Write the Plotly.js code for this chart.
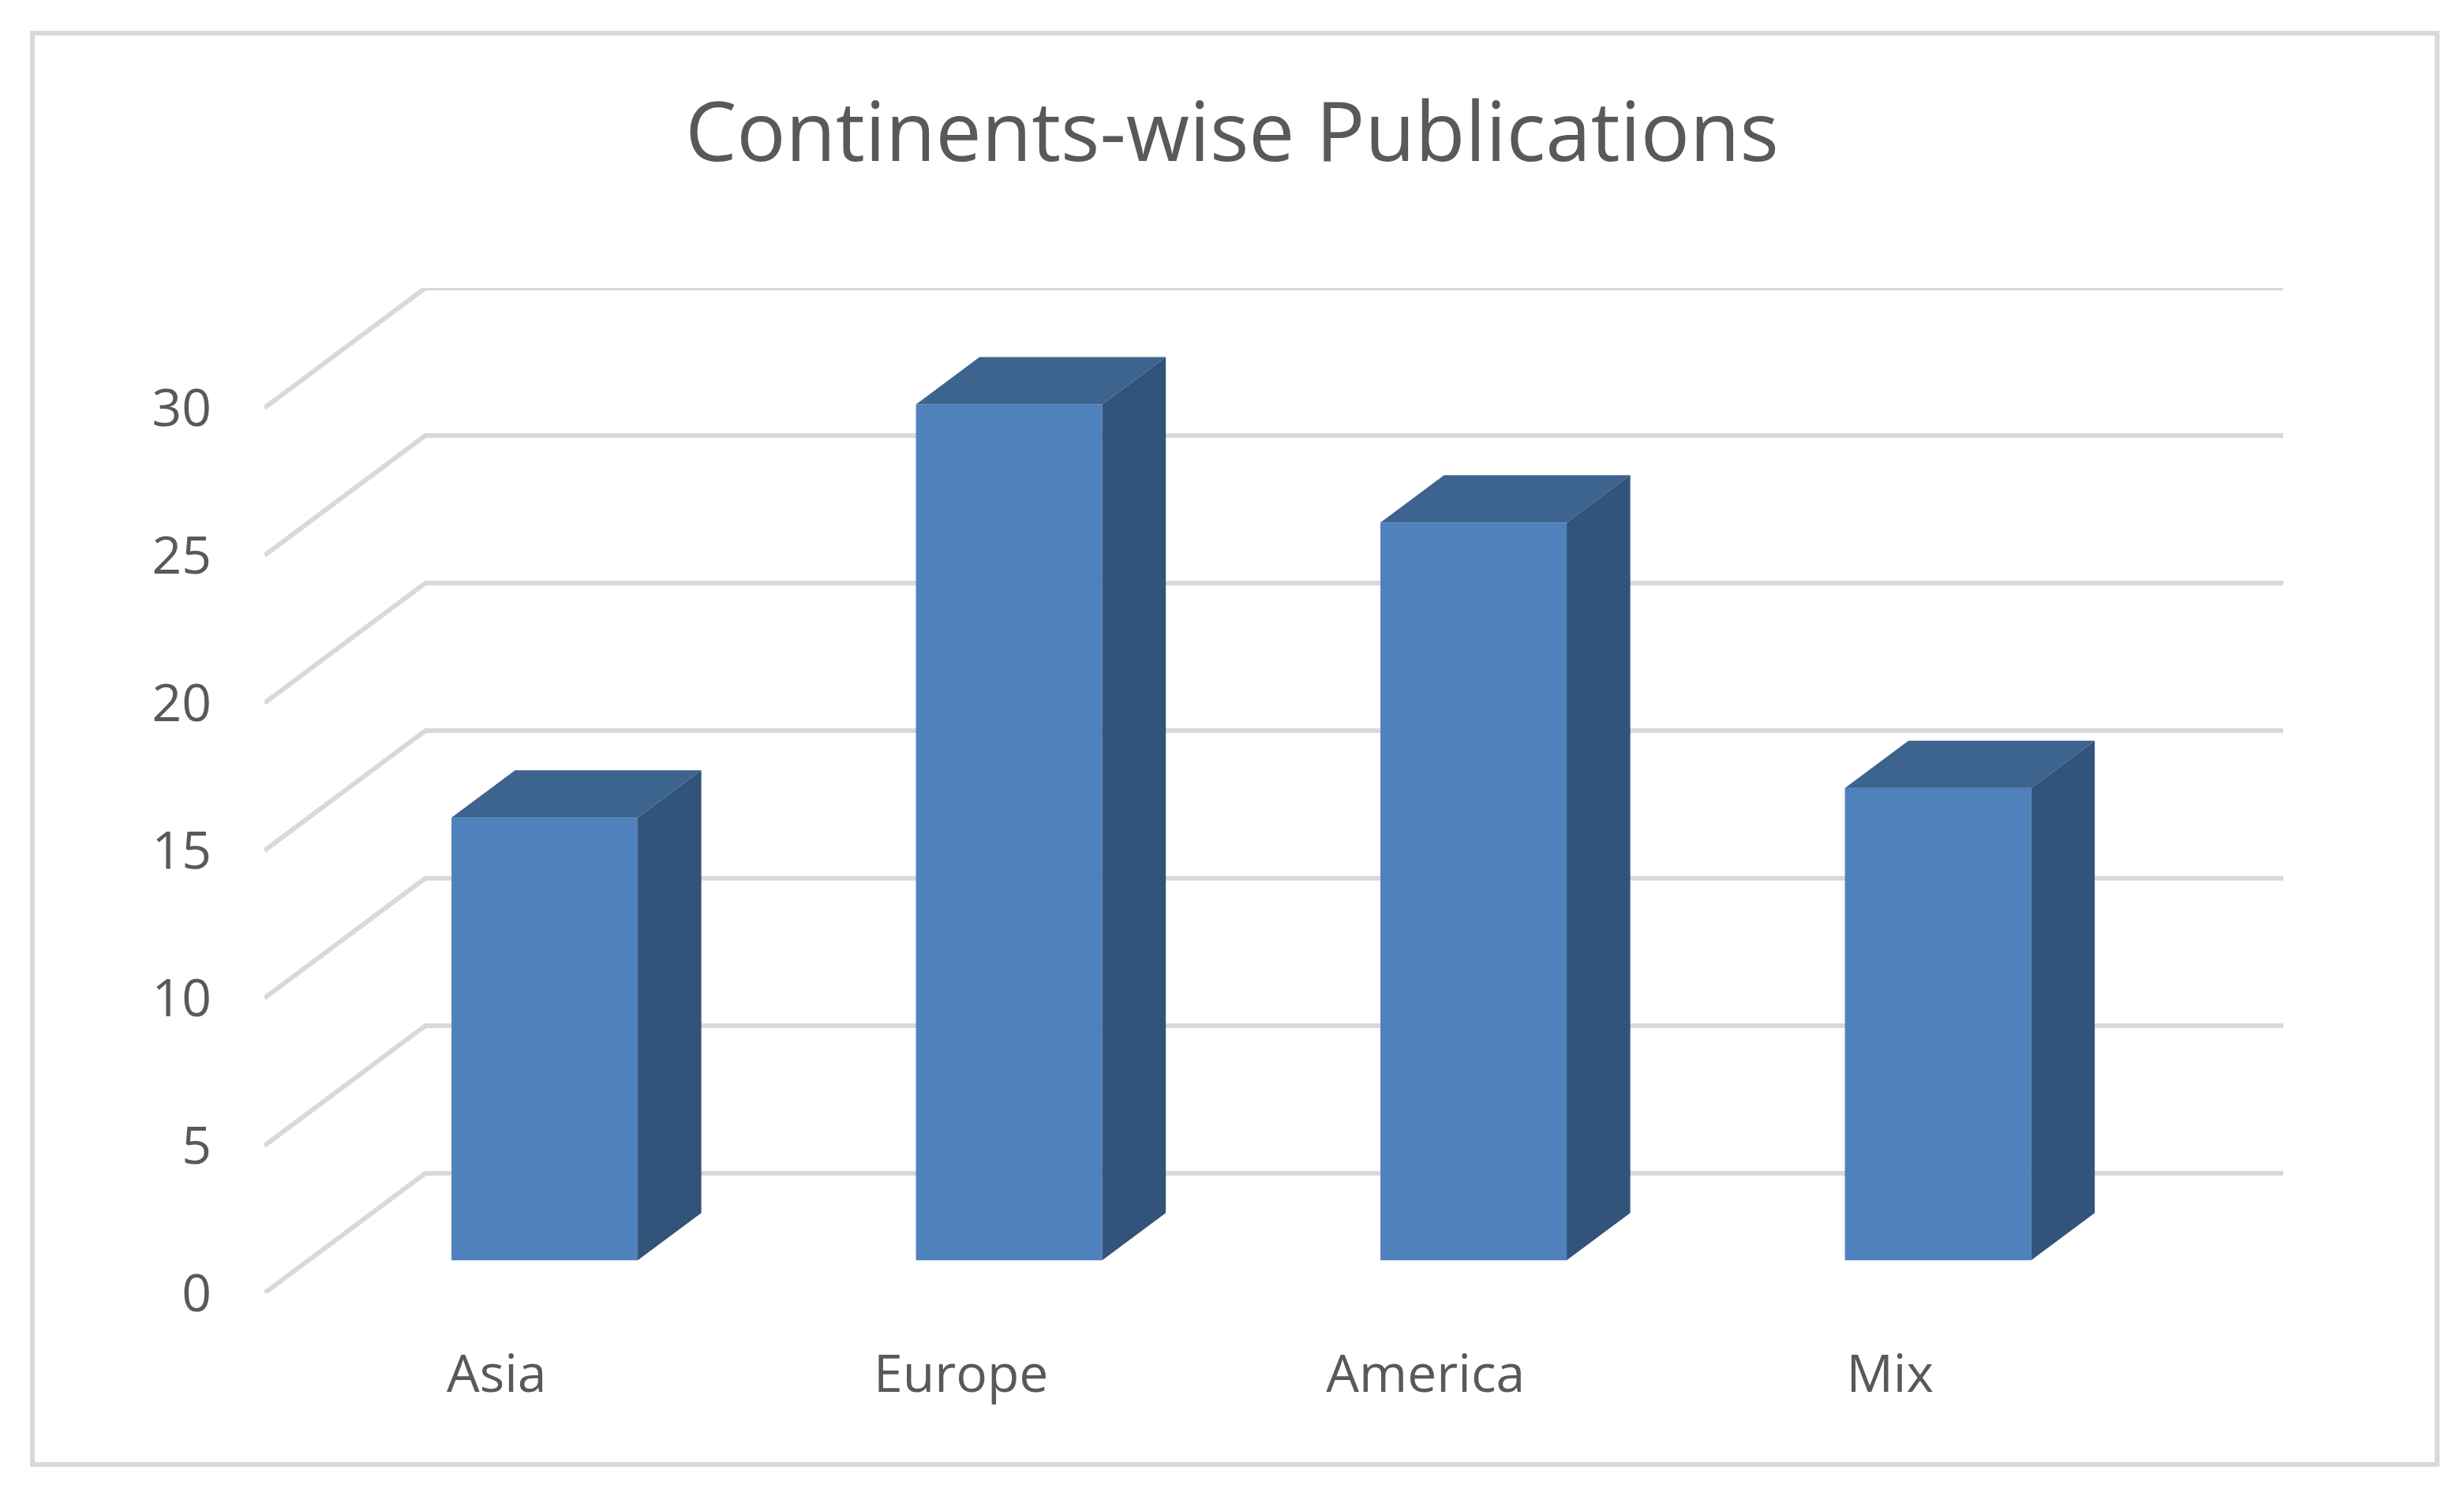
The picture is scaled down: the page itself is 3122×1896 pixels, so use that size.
<!DOCTYPE html>
<html>
<head>
<meta charset="utf-8">
<script src="https://cdn.plot.ly/plotly-3.0.1.min.js"></script>
<style>
  html, body { margin: 0; padding: 0; background: #ffffff; }
  #chart { width: 3122px; height: 1896px; }
</style>
</head>
<body>
<div id="chart"></div>
<script>
// ---- data ----
const categories = ["Asia", "Europe", "America", "Mix"];
const publications = [15, 29, 25, 16];
const yTicks = [0, 5, 10, 15, 20, 25, 30];
const chartTitle = "Continents-wise Publications";

// ---- geometry of the oblique 3D look (in axis units) ----
const W = 3122, H = 1896;
const M = { l: 335, r: 229, t: 365, b: 257 };
const DX = 0.3466;      // full floor depth, x units
const DY = 4.064;       // full floor depth, y units
const fFront = 0.275;   // depth fraction of bar front face
const fDepth = 0.395;   // bar depth fraction
const barW = 0.401;
const yMax = 30;

const gridColor = "#d9d9d9";
const frontColor = "#4f81bd";
const topColor = "#3d638f";
const sideColor = "#32537a";
const textColor = "#595959";
const fontFam = "'Open Sans', 'Noto Sans', sans-serif";

// back wall gridlines + left wall diagonals
const gx = [], gy = [];
yTicks.forEach(v => {
  gx.push(-0.5, -0.5 + DX, 3.5 + DX, null);
  gy.push(v, v + DY, v + DY, null);
});

const xIdx = categories.map((c, i) => i);
const baseY = fFront * DY;
const xCenter = xIdx.map(i => i + fFront * DX + 0.008);
const ddx = fDepth * DX, ddy = fDepth * DY;

const sx = [], sy = [], tx = [], ty = [];
publications.forEach((v, i) => {
  const xl = xCenter[i] - barW / 2, xr = xCenter[i] + barW / 2;
  const b = baseY, t = baseY + v;
  sx.push(xr, xr + ddx, xr + ddx, xr, xr, null);
  sy.push(b, b + ddy, t + ddy, t, b, null);
  tx.push(xl, xr, xr + ddx, xl + ddx, xl, null);
  ty.push(t, t, t + ddy, t + ddy, t, null);
});

const traces = [
  { type: "scatter", mode: "lines", x: gx, y: gy, hoverinfo: "skip",
    line: { color: gridColor, width: 6 }, connectgaps: false, xaxis: "x", yaxis: "y" },
  { type: "bar", x: xCenter, y: publications, base: publications.map(() => baseY),
    width: barW, marker: { color: frontColor, line: { width: 0 } }, hoverinfo: "skip",
    xaxis: "x2", yaxis: "y2" },
  { type: "scatter", mode: "lines", x: sx, y: sy, fill: "toself", fillcolor: sideColor,
    line: { width: 0, color: sideColor }, hoverinfo: "skip", xaxis: "x2", yaxis: "y2" },
  { type: "scatter", mode: "lines", x: tx, y: ty, fill: "toself", fillcolor: topColor,
    line: { width: 0, color: topColor }, hoverinfo: "skip", xaxis: "x2", yaxis: "y2" }
];

const pw = W - M.l - M.r, ph = H - M.t - M.b;
const px2x = p => (p - M.l) / pw;
const py2y = p => (H - p - M.b) / ph;

const xr0 = [-0.5, 3.5 + DX], yr0 = [0, yMax + DY];
const tickFont = { family: fontFam, size: 66, color: textColor };

const layout = {
  width: W, height: H,
  margin: M,
  paper_bgcolor: "#ffffff", plot_bgcolor: "rgba(0,0,0,0)",
  showlegend: false,
  title: { text: chartTitle, x: 0.5, xref: "container", xanchor: "center",
           y: 1 - 168 / H, yref: "container", yanchor: "middle",
           font: { family: fontFam, size: 103.5, color: textColor } },
  xaxis: { range: xr0, tickvals: xIdx, ticktext: categories,
           showgrid: false, zeroline: false, showline: false, ticks: "",
           ticklabelstandoff: 58, tickfont: tickFont },
  yaxis: { range: yr0, tickvals: yTicks, ticktext: yTicks.map(String),
           showgrid: false, zeroline: false, showline: false, ticks: "",
           ticklabelstandoff: 66, tickfont: tickFont },
  xaxis2: { range: xr0, overlaying: "x", anchor: "y2", visible: false,
            showgrid: false, zeroline: false },
  yaxis2: { range: yr0, overlaying: "y", anchor: "x2", visible: false,
            showgrid: false, zeroline: false },
  shapes: [
    { type: "rect", xref: "paper", yref: "paper", layer: "below",
      x0: px2x(41), x1: px2x(3088), y0: py2y(1856), y1: py2y(42),
      line: { color: gridColor, width: 6 }, fillcolor: "rgba(0,0,0,0)" }
  ]
};

Plotly.newPlot("chart", traces, layout, { staticPlot: true, displayModeBar: false });
</script>
</body>
</html>
